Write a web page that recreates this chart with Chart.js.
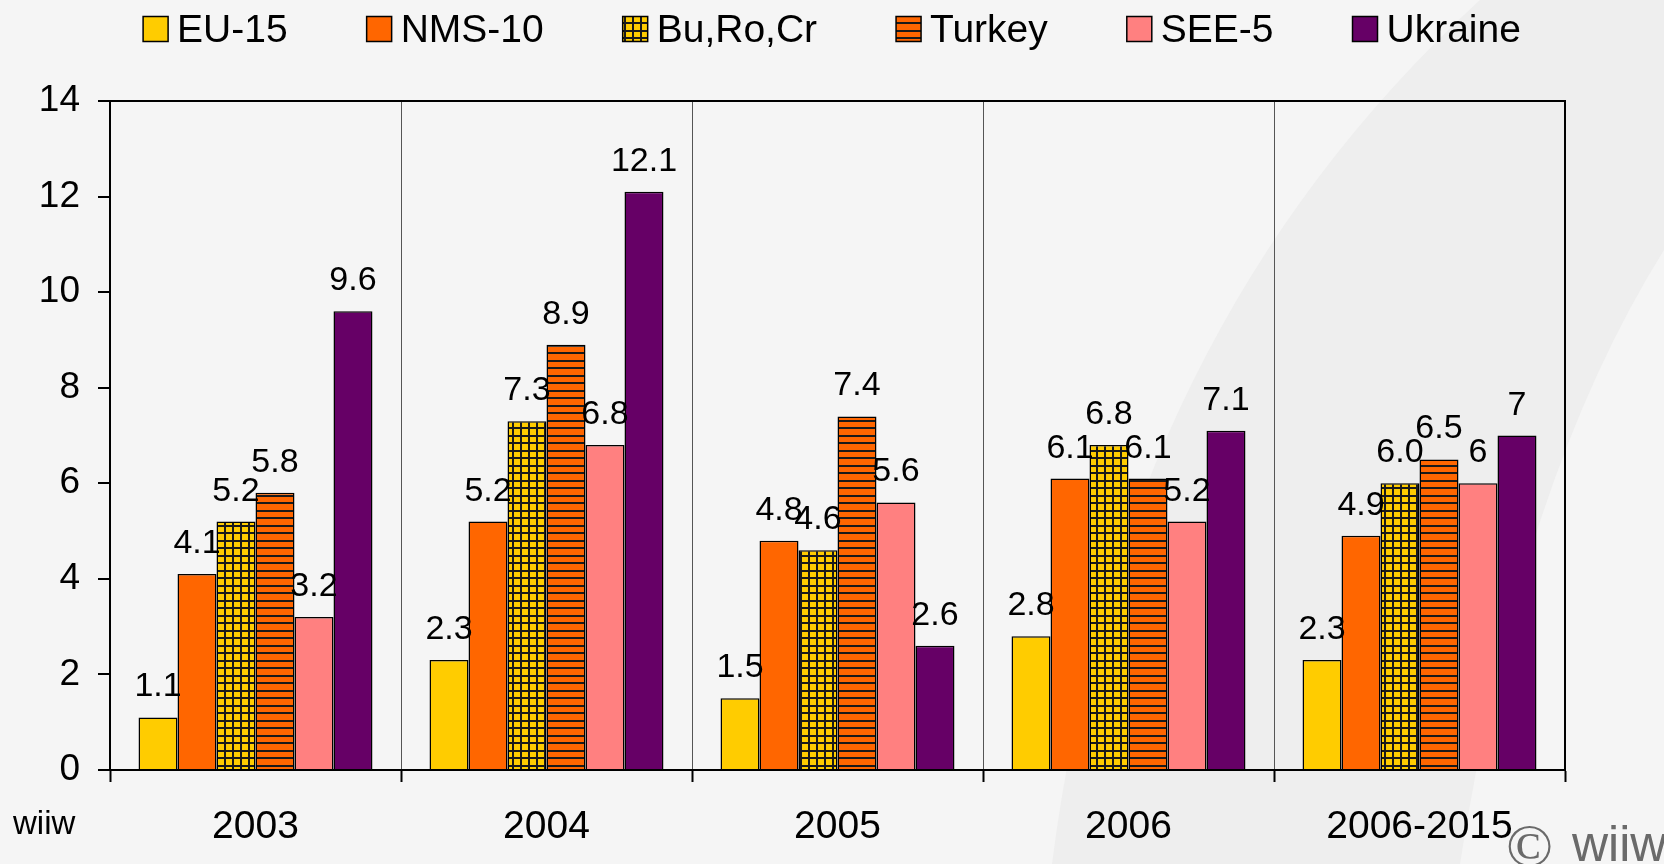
<!DOCTYPE html>
<html>
<head>
<meta charset="utf-8">
<title>GDP growth</title>
<script src="https://cdn.jsdelivr.net/npm/chart.js@4.4.1/dist/chart.umd.min.js"></script>
<style>
  html, body { margin: 0; padding: 0; background: #f5f5f5; }
  #wrap { width: 1664px; height: 864px; }
</style>
</head>
<body>
<div id="wrap"><canvas id="growthChart" width="1664" height="864"></canvas></div>
<script>
const categories = ["2003", "2004", "2005", "2006", "2006-2015"];
const seriesNames = ["EU-15", "NMS-10", "Bu,Ro,Cr", "Turkey", "SEE-5", "Ukraine"];

const eu15 = [1.1, 2.3, 1.5, 2.8, 2.3];
const nms10 = [4.1, 5.2, 4.8, 6.1, 4.9];
const buRoCr = [5.2, 7.3, 4.6, 6.8, 6.0];
const turkey = [5.8, 8.9, 7.4, 6.1, 6.5];
const see5 = [3.2, 6.8, 5.6, 5.2, 6];
const ukraine = [9.6, 12.1, 2.6, 7.1, 7];

// labels as printed above the bars
const eu15Labels = ["1.1", "2.3", "1.5", "2.8", "2.3"];
const nms10Labels = ["4.1", "5.2", "4.8", "6.1", "4.9"];
const buRoCrLabels = ["5.2", "7.3", "4.6", "6.8", "6.0"];
const turkeyLabels = ["5.8", "8.9", "7.4", "6.1", "6.5"];
const see5Labels = ["3.2", "6.8", "5.6", "5.2", "6"];
const ukraineLabels = ["9.6", "12.1", "2.6", "7.1", "7"];

const yMin = 0;
const yMax = 14;
const yStep = 2;

const FONT = "'Liberation Sans', Arial, sans-serif";

const canvas = document.getElementById("growthChart");
const ctx = canvas.getContext("2d");

// yellow with black grid (Bu,Ro,Cr)
function gridPattern() {
  const c = document.createElement("canvas");
  c.width = 8;
  c.height = 15;
  const g = c.getContext("2d");
  g.fillStyle = "#ffcc00";
  g.fillRect(0, 0, 8, 15);
  g.fillStyle = "#1a1a1a";
  g.fillRect(0, 0, 2, 15);
  g.fillRect(0, 0, 8, 2);
  g.fillRect(0, 7, 8, 2);
  return ctx.createPattern(c, "repeat");
}

// orange with horizontal black lines (Turkey)
function stripePattern() {
  const c = document.createElement("canvas");
  c.width = 8;
  c.height = 15;
  const g = c.getContext("2d");
  g.fillStyle = "#ff6600";
  g.fillRect(0, 0, 8, 15);
  g.fillStyle = "#1a1a1a";
  g.fillRect(0, 0, 8, 2);
  g.fillRect(0, 7, 8, 2);
  return ctx.createPattern(c, "repeat");
}

const fills = ["#ffcc00", "#ff6600", gridPattern(), stripePattern(), "#ff8080", "#660066"];
const values = [eu15, nms10, buRoCr, turkey, see5, ukraine];
const labelSets = [eu15Labels, nms10Labels, buRoCrLabels, turkeyLabels, see5Labels, ukraineLabels];

const datasets = seriesNames.map((name, i) => ({
  label: name,
  data: values[i],
  printed: labelSets[i],
  backgroundColor: fills[i],
  borderColor: "#000",
  borderWidth: 1.5,
  categoryPercentage: 0.804,
  barPercentage: 1,
}));

const backgroundPlugin = {
  id: "background",
  beforeDraw(chart) {
    const c = chart.ctx;
    c.save();
    c.fillStyle = "#f5f5f5";
    c.fillRect(0, 0, chart.width, chart.height);
    // soft darker swoosh on the right
    c.fillStyle = "#eeeeee";
    c.beginPath();
    c.moveTo(1480, 0);
    c.quadraticCurveTo(1120, 330, 1052, 864);
    c.lineTo(1460, 864);
    c.quadraticCurveTo(1520, 480, 1664, 250);
    c.lineTo(1664, 0);
    c.closePath();
    c.fill();
    c.restore();
  },
};

const valueLabelPlugin = {
  id: "valueLabels",
  afterDatasetsDraw(chart) {
    const c = chart.ctx;
    c.save();
    c.font = "34px " + FONT;
    c.fillStyle = "#000";
    c.textAlign = "center";
    c.textBaseline = "alphabetic";
    chart.data.datasets.forEach((ds, i) => {
      const meta = chart.getDatasetMeta(i);
      meta.data.forEach((bar, j) => {
        c.fillText(ds.printed[j], bar.x, bar.y - 21);
      });
    });
    c.restore();
  },
};

const framePlugin = {
  id: "frame",
  afterDraw(chart) {
    const c = chart.ctx;
    const a = chart.chartArea;
    c.save();
    c.strokeStyle = "#000";
    c.lineWidth = 2;
    c.beginPath();
    c.moveTo(a.left, a.top);
    c.lineTo(a.right, a.top);
    c.lineTo(a.right, a.bottom);
    c.stroke();

    // legend
    c.font = "39px " + FONT;
    c.textBaseline = "middle";
    c.textAlign = "left";
    const box = 25;
    const gapBox = 9;
    const gapItem = 79;
    const widths = chart.data.datasets.map((ds) => c.measureText(ds.label).width);
    let total = 0;
    widths.forEach((w, i) => {
      total += box + gapBox + w + (i < widths.length - 1 ? gapItem : 0);
    });
    let x = (chart.width - total) / 2;
    const boxMid = 29;
    const textMid = 31;
    chart.data.datasets.forEach((ds, i) => {
      c.fillStyle = ds.backgroundColor;
      c.fillRect(x, boxMid - 12.5, box, box);
      c.lineWidth = 1.5;
      c.strokeStyle = "#000";
      c.strokeRect(x, boxMid - 12.5, box, box);
      c.fillStyle = "#000";
      c.fillText(ds.label, x + box + gapBox, textMid);
      x += box + gapBox + widths[i] + gapItem;
    });

    // source notes
    c.font = "33px " + FONT;
    c.fillStyle = "#000";
    c.fillText("wiiw", 13, 825);
    c.fillStyle = "#6a6a6a";
    c.textBaseline = "alphabetic";
    c.font = "62px 'Liberation Serif', 'Times New Roman', serif";
    c.fillText("\u00a9", 1506, 866);
    c.font = "50px " + FONT;
    c.fillText("wiiw", 1572, 861);
    c.restore();
  },
};

const growthChart = new Chart(canvas, {
  type: "bar",
  data: { labels: categories, datasets },
  options: {
    responsive: false,
    animation: false,
    devicePixelRatio: 1,
    layout: { padding: { left: 0, right: 99, top: 101, bottom: 0 } },
    plugins: {
      legend: { display: false },
      tooltip: { enabled: false },
    },
    scales: {
      x: {
        offset: true,
        grid: {
          offset: true,
          color: "#555",
          lineWidth: 1,
          tickColor: "#000",
          tickWidth: 2,
          tickLength: 12,
        },
        border: { color: "#000", width: 2 },
        ticks: { color: "#000", font: { family: FONT, size: 39 }, padding: 22 },
        afterFit(scale) {
          scale.height = 94;
        },
      },
      y: {
        min: yMin,
        max: yMax,
        ticks: { stepSize: yStep, color: "#000", font: { family: FONT, size: 37 }, padding: 18 },
        grid: { drawOnChartArea: false, color: "#000", lineWidth: 2, tickLength: 12 },
        border: { color: "#000", width: 2 },
        afterFit(scale) {
          scale.width = 110;
        },
      },
    },
  },
  plugins: [backgroundPlugin, valueLabelPlugin, framePlugin],
});
</script>
</body>
</html>
